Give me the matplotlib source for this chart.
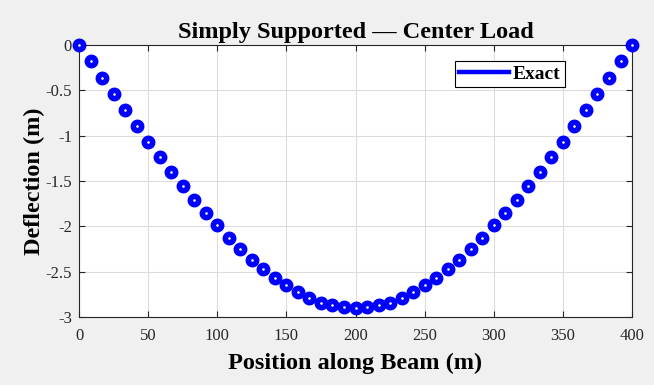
import matplotlib
matplotlib.use("Agg")
import matplotlib.pyplot as plt
from matplotlib.lines import Line2D

plt.rcParams["font.family"] = ["Liberation Serif", "DejaVu Serif"]
plt.rcParams["axes.unicode_minus"] = False

# beam position (m) and deflection (m)
position = [0, 8.33, 16.67, 25, 33.33, 41.67, 50, 58.33, 66.67, 75, 83.33, 91.67,
            100, 108.33, 116.67, 125, 133.33, 141.67, 150, 158.33, 166.67, 175,
            183.33, 191.67, 200, 208.33, 216.67, 225, 233.33, 241.67, 250, 258.33,
            266.67, 275, 283.33, 291.67, 300, 308.33, 316.67, 325, 333.33, 341.67,
            350, 358.33, 366.67, 375, 383.33, 391.67, 400]
half = [0, -0.18, -0.36, -0.54, -0.72, -0.89, -1.07, -1.23, -1.40, -1.56, -1.71,
        -1.85, -1.99, -2.13, -2.25, -2.37, -2.47, -2.57, -2.65, -2.72, -2.79,
        -2.84, -2.87, -2.89, -2.90]
deflection = half + half[-2::-1]

xticks = [0, 50, 100, 150, 200, 250, 300, 350, 400]
yticks = [0, -0.5, -1, -1.5, -2, -2.5, -3]
ytick_labels = ["0", "-0.5", "-1", "-1.5", "-2", "-2.5", "-3"]

fig = plt.figure(figsize=(6.54, 3.85), dpi=100, facecolor="#f0f0f0")
ax = fig.add_axes([0.1208, 0.1766, 0.8456, 0.7065])
ax.set_facecolor("white")

ax.plot(position, deflection, "o", color="blue", ms=6.0, mew=4.0,
        mfc="white", mec="blue", clip_on=False, zorder=3)

ax.set_xlim(0, 400)
ax.set_ylim(-3, 0)
ax.set_xticks(xticks)
ax.set_yticks(yticks)
ax.set_yticklabels(ytick_labels)
ax.grid(True, color="#dcdcdc", lw=0.8)
ax.set_axisbelow(True)
ax.tick_params(direction="in", top=True, right=True, labelsize=12,
               colors="#262626", length=4)
ax.tick_params(axis="x", pad=8)
ax.tick_params(axis="y", pad=5)
for s in ax.spines.values():
    s.set_color("#262626")

ax.set_title("Simply Supported \u2014 Center Load", fontsize=17.5,
             fontweight="bold", pad=5)
ax.set_xlabel("Position along Beam (m)", fontsize=17.5, fontweight="bold",
              labelpad=6.5)
ax.set_ylabel("Deflection (m)", fontsize=17.5, fontweight="bold", labelpad=0.5)

handle = Line2D([], [], color="blue", lw=3.2)
leg = ax.legend([handle], ["Exact"], loc="upper right",
                bbox_to_anchor=(0.878, 0.94), fancybox=False, framealpha=1,
                edgecolor="black", prop={"weight": "bold", "size": 14},
                handlelength=2.6, borderpad=0.2, handletextpad=0.2,
                borderaxespad=0)
leg.get_frame().set_linewidth(0.8)

fig.savefig("out.png", dpi=100, facecolor=fig.get_facecolor())
